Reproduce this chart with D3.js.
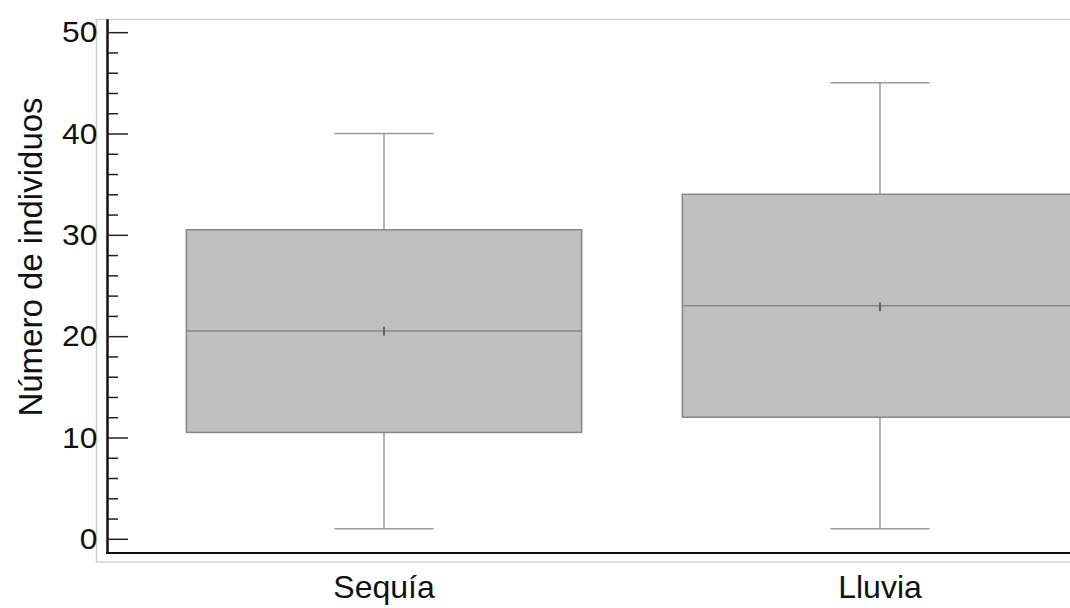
<!DOCTYPE html>
<html>
<head>
<meta charset="utf-8">
<script src="https://cdn.jsdelivr.net/npm/d3@7"></script>
<style>
  html, body { margin: 0; padding: 0; background: #fff; }
  svg { display: block; font-family: "Liberation Sans", Arial, sans-serif; }
</style>
</head>
<body>
<svg id="chart" width="1070" height="608"></svg>
<script>
// Box-plot summaries per season
const categories = ["Sequía", "Lluvia"];
const whiskerLow  = [1, 1];
const q1          = [10.5, 12];
const median      = [20.5, 23];
const mean        = [20.5, 22.9];
const q3          = [30.5, 34];
const whiskerHigh = [40, 45];

const majorTicks = [0, 10, 20, 30, 40, 50];
const minorTicks = [2, 4, 6, 8, 12, 14, 16, 18, 22, 24, 26, 28, 32, 34, 36, 38, 42, 44, 46, 48];

const yLabel = "Número de individuos";

const svg = d3.select("#chart");
const plotLeft = 107, plotTop = 19, plotBottom = 553, plotRight = 1157;

const y = d3.scaleLinear().domain([-1.4, 51.3]).range([plotBottom, plotTop]);
const x = d3.scalePoint().domain(categories).range([plotLeft, plotRight]).padding(0.5585);

const step = x.step();
const boxW = step * 0.797;
const capW = step * 0.2;

// light outer frame
svg.append("rect")
  .attr("x", 96.5).attr("y", 19.5)
  .attr("width", 1200).attr("height", 542.5)
  .attr("fill", "none").attr("stroke", "#cfcfcf").attr("stroke-width", 1.5);

const data = categories.map((c, i) => ({
  c, lo: whiskerLow[i], q1: q1[i], med: median[i], mean: mean[i], q3: q3[i], hi: whiskerHigh[i]
}));

const g = svg.append("g");
data.forEach(d => {
  const xc = x(d.c);
  // whiskers with caps
  [[d.q3, d.hi], [d.q1, d.lo]].forEach(([a, b]) => {
    g.append("line").attr("x1", xc).attr("x2", xc)
      .attr("y1", y(a)).attr("y2", y(b))
      .attr("stroke", "#9a9a9a").attr("stroke-width", 1.5);
    g.append("line").attr("x1", xc - capW / 2).attr("x2", xc + capW / 2)
      .attr("y1", y(b)).attr("y2", y(b))
      .attr("stroke", "#9a9a9a").attr("stroke-width", 1.5);
  });
  // box
  g.append("rect")
    .attr("x", xc - boxW / 2).attr("y", y(d.q3))
    .attr("width", boxW).attr("height", y(d.q1) - y(d.q3))
    .attr("fill", "#c0c0c0").attr("stroke", "#878787").attr("stroke-width", 1.5);
  // median
  g.append("line").attr("x1", xc - boxW / 2).attr("x2", xc + boxW / 2)
    .attr("y1", y(d.med)).attr("y2", y(d.med))
    .attr("stroke", "#878787").attr("stroke-width", 1.5);
  // mean marker
  g.append("line").attr("x1", xc).attr("x2", xc)
    .attr("y1", y(d.mean) - 4.5).attr("y2", y(d.mean) + 4.5)
    .attr("stroke", "#666").attr("stroke-width", 2);
});

// y axis: major and minor ticks pointing inward
const major = d3.axisLeft(y).tickValues(majorTicks).tickSizeInner(-21).tickSizeOuter(0).tickPadding(10).tickFormat(d3.format("d"));
const minor = d3.axisLeft(y).tickValues(minorTicks).tickSizeInner(-11).tickSizeOuter(0).tickFormat("");

const ga = svg.append("g").attr("transform", `translate(${plotLeft},0)`);
ga.call(minor);
ga.append("g").call(major);
ga.selectAll("path.domain").attr("stroke", "#111").attr("stroke-width", 2);
ga.selectAll(".tick line").attr("stroke", "#222").attr("stroke-width", 1.5);
ga.selectAll(".tick text").attr("font-size", 30).attr("fill", "#111")
  .attr("font-family", "Liberation Sans, Arial, sans-serif")
  .attr("x", -9).attr("transform", "scale(1.06,1)");

// bottom axis line
svg.append("line").attr("x1", plotLeft - 1).attr("x2", 1070)
  .attr("y1", plotBottom).attr("y2", plotBottom)
  .attr("stroke", "#111").attr("stroke-width", 2);

// category labels
svg.selectAll("text.cat").data(categories).join("text")
  .attr("class", "cat")
  .attr("x", d => x(d)).attr("y", 598)
  .attr("text-anchor", "middle")
  .attr("font-size", 32).attr("fill", "#111")
  .text(d => d);

// y title
svg.append("text")
  .attr("transform", `translate(42,257) rotate(-90)`)
  .attr("text-anchor", "middle")
  .attr("font-size", 33).attr("fill", "#111")
  .text(yLabel);
</script>
</body>
</html>
